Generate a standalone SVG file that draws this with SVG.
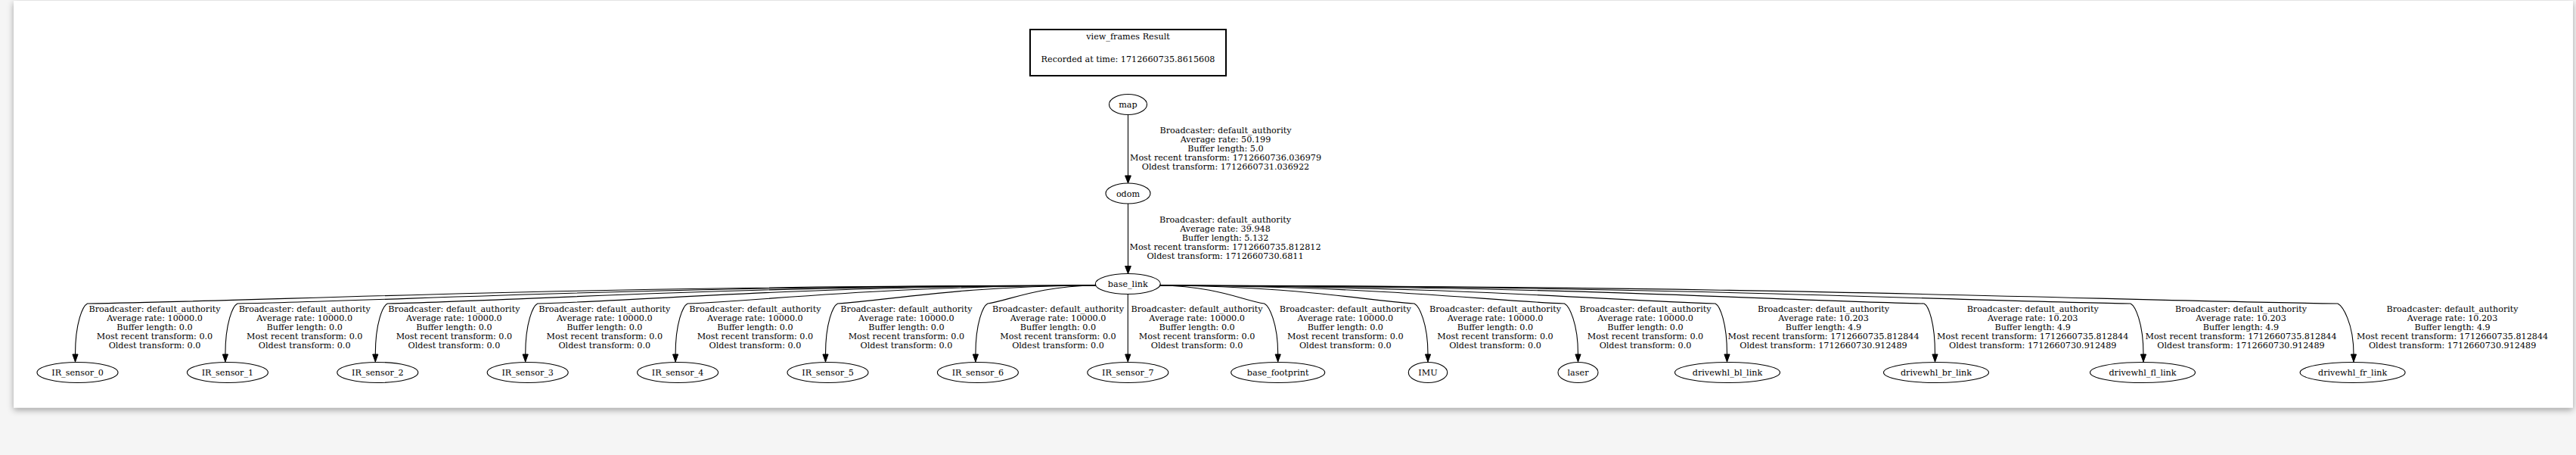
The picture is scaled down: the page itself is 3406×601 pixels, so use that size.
<svg xmlns="http://www.w3.org/2000/svg" width="3406" height="601" viewBox="0 0 3406 601">
<defs>
<filter id="sh" x="-1%" y="-5%" width="102%" height="112%">
<feDropShadow dx="0" dy="3" stdDeviation="4" flood-color="#000" flood-opacity="0.35"/>
</filter>
<style>
text{font-family:"DejaVu Serif","Liberation Serif",serif;font-size:11.2px;fill:#000;text-anchor:middle}
.n ellipse{fill:none;stroke:#000;stroke-width:1.1}
.e path{fill:none;stroke:#000;stroke-width:1.1}
.e polygon{fill:#000;stroke:#000;stroke-width:1}
</style>
</defs>
<rect x="0" y="0" width="3406" height="601" fill="#f5f5f5"/>
<rect x="18" y="1" width="3384" height="537.5" fill="#fff" filter="url(#sh)"/>

<g id="title">
<rect x="1362" y="39" width="259" height="61" fill="none" stroke="#000" stroke-width="2"/>
<text x="1491.5" y="52">view_frames Result</text>
<text x="1491.5" y="82">Recorded at time: 1712660735.8615608</text>
</g>

<g id="connectors" class="e">
<path d="M1491.5,151.5 L1491.5,232"/><polygon points="1491.5,242 1487.6,232 1495.4,232"/>
<text x="1620.5" y="176"><tspan x="1620.5">Broadcaster: default_authority</tspan><tspan x="1620.5" dy="12.1">Average rate: 50.199</tspan><tspan x="1620.5" dy="12.1">Buffer length: 5.0</tspan><tspan x="1620.5" dy="12.1">Most recent transform: 1712660736.036979</tspan><tspan x="1620.5" dy="12.1">Oldest transform: 1712660731.036922</tspan></text>
<path d="M1491.5,269 L1491.5,351.5"/><polygon points="1491.5,361.5 1487.6,351.5 1495.4,351.5"/>
<text x="1620" y="294"><tspan x="1620">Broadcaster: default_authority</tspan><tspan x="1620" dy="12.1">Average rate: 39.948</tspan><tspan x="1620" dy="12.1">Buffer length: 5.132</tspan><tspan x="1620" dy="12.1">Most recent transform: 1712660735.812812</tspan><tspan x="1620" dy="12.1">Oldest transform: 1712660730.6811</tspan></text>

<path d="M1449,377 C715.6,378 382.2,397 115.5,401 C109.5,404 99.5,426 99.5,468"/><polygon points="99.5,478 95.9,468 103.1,468"/>
<path d="M1449,377 C824.7,378 540.9,397 313.9,401 C307.9,404 297.9,426 297.9,468"/><polygon points="297.9,478 294.3,468 301.5,468"/>
<path d="M1449,377 C933.8,378 699.6,397 512.3,401 C506.3,404 496.3,426 496.3,468"/><polygon points="496.3,478 492.7,468 499.9,468"/>
<path d="M1449,377 C1042.9,378 858.4,397 710.7,401 C704.7,404 694.7,426 694.7,468"/><polygon points="694.7,478 691.1,468 698.3,468"/>
<path d="M1449,377 C1152,378 1017.1,397 909.1,401 C903.1,404 893.1,426 893.1,468"/><polygon points="893.1,478 889.5,468 896.7,468"/>
<path d="M1449,377 C1261.2,378 1175.8,397 1107.5,401 C1101.5,404 1091.5,426 1091.5,468"/><polygon points="1091.5,478 1087.9,468 1095.1,468"/>
<path d="M1449,377 C1370.3,378 1334.5,397 1305.9,401 C1299.9,404 1289.9,426 1289.9,468"/><polygon points="1289.9,478 1286.3,468 1293.5,468"/>
<path d="M1491.3,388.5 L1491.3,468"/><polygon points="1491.3,478 1487.7,468 1494.9,468"/>
<path d="M1533,377 C1609.3,378 1644,397 1671.7,401 C1677.7,404 1689.7,426 1689.7,468"/><polygon points="1689.7,478 1686.1,468 1693.3,468"/>
<path d="M1533,377 C1718.4,378 1802.6,397 1870,401 C1876,404 1888,426 1888,468"/><polygon points="1888,478 1884.4,468 1891.6,468"/>
<path d="M1533,377 C1827.5,378 1961.4,397 2068.5,401 C2074.5,404 2086.5,426 2086.5,468"/><polygon points="2086.5,478 2082.9,468 2090.1,468"/>
<path d="M1533,377 C1937.3,378 2121,397 2268,401 C2274,404 2283.5,426 2283.5,468"/><polygon points="2283.5,478 2279.9,468 2287.1,468"/>
<path d="M1533,377 C2089,378 2341.8,397 2544,401 C2550,404 2558.5,426 2558.5,468"/><polygon points="2558.5,478 2554.9,468 2562.1,468"/>
<path d="M1533,377 C2239.2,378 2560.2,397 2817,401 C2823,404 2834,426 2834,468"/><polygon points="2834,478 2830.4,468 2837.6,468"/>
<path d="M1533,377 C2389.9,378 2779.4,397 3091,401 C3097,404 3112,426 3112,468"/><polygon points="3112,478 3108.4,468 3115.6,468"/>

<g id="lbl-ir">
<text y="412"><tspan x="204.5">Broadcaster: default_authority</tspan><tspan x="204.5" dy="12.1">Average rate: 10000.0</tspan><tspan x="204.5" dy="12.1">Buffer length: 0.0</tspan><tspan x="204.5" dy="12.1">Most recent transform: 0.0</tspan><tspan x="204.5" dy="12.1">Oldest transform: 0.0</tspan></text>
<text y="412"><tspan x="402.7">Broadcaster: default_authority</tspan><tspan x="402.7" dy="12.1">Average rate: 10000.0</tspan><tspan x="402.7" dy="12.1">Buffer length: 0.0</tspan><tspan x="402.7" dy="12.1">Most recent transform: 0.0</tspan><tspan x="402.7" dy="12.1">Oldest transform: 0.0</tspan></text>
<text y="412"><tspan x="600.4">Broadcaster: default_authority</tspan><tspan x="600.4" dy="12.1">Average rate: 10000.0</tspan><tspan x="600.4" dy="12.1">Buffer length: 0.0</tspan><tspan x="600.4" dy="12.1">Most recent transform: 0.0</tspan><tspan x="600.4" dy="12.1">Oldest transform: 0.0</tspan></text>
<text y="412"><tspan x="799.3">Broadcaster: default_authority</tspan><tspan x="799.3" dy="12.1">Average rate: 10000.0</tspan><tspan x="799.3" dy="12.1">Buffer length: 0.0</tspan><tspan x="799.3" dy="12.1">Most recent transform: 0.0</tspan><tspan x="799.3" dy="12.1">Oldest transform: 0.0</tspan></text>
<text y="412"><tspan x="998.4">Broadcaster: default_authority</tspan><tspan x="998.4" dy="12.1">Average rate: 10000.0</tspan><tspan x="998.4" dy="12.1">Buffer length: 0.0</tspan><tspan x="998.4" dy="12.1">Most recent transform: 0.0</tspan><tspan x="998.4" dy="12.1">Oldest transform: 0.0</tspan></text>
<text y="412"><tspan x="1198.4">Broadcaster: default_authority</tspan><tspan x="1198.4" dy="12.1">Average rate: 10000.0</tspan><tspan x="1198.4" dy="12.1">Buffer length: 0.0</tspan><tspan x="1198.4" dy="12.1">Most recent transform: 0.0</tspan><tspan x="1198.4" dy="12.1">Oldest transform: 0.0</tspan></text>
<text y="412"><tspan x="1399">Broadcaster: default_authority</tspan><tspan x="1399" dy="12.1">Average rate: 10000.0</tspan><tspan x="1399" dy="12.1">Buffer length: 0.0</tspan><tspan x="1399" dy="12.1">Most recent transform: 0.0</tspan><tspan x="1399" dy="12.1">Oldest transform: 0.0</tspan></text>
<text y="412"><tspan x="1582.6">Broadcaster: default_authority</tspan><tspan x="1582.6" dy="12.1">Average rate: 10000.0</tspan><tspan x="1582.6" dy="12.1">Buffer length: 0.0</tspan><tspan x="1582.6" dy="12.1">Most recent transform: 0.0</tspan><tspan x="1582.6" dy="12.1">Oldest transform: 0.0</tspan></text>
<text y="412"><tspan x="1778.8">Broadcaster: default_authority</tspan><tspan x="1778.8" dy="12.1">Average rate: 10000.0</tspan><tspan x="1778.8" dy="12.1">Buffer length: 0.0</tspan><tspan x="1778.8" dy="12.1">Most recent transform: 0.0</tspan><tspan x="1778.8" dy="12.1">Oldest transform: 0.0</tspan></text>
<text y="412"><tspan x="1977">Broadcaster: default_authority</tspan><tspan x="1977" dy="12.1">Average rate: 10000.0</tspan><tspan x="1977" dy="12.1">Buffer length: 0.0</tspan><tspan x="1977" dy="12.1">Most recent transform: 0.0</tspan><tspan x="1977" dy="12.1">Oldest transform: 0.0</tspan></text>
<text y="412"><tspan x="2175.5">Broadcaster: default_authority</tspan><tspan x="2175.5" dy="12.1">Average rate: 10000.0</tspan><tspan x="2175.5" dy="12.1">Buffer length: 0.0</tspan><tspan x="2175.5" dy="12.1">Most recent transform: 0.0</tspan><tspan x="2175.5" dy="12.1">Oldest transform: 0.0</tspan></text>
</g>
<g id="lbl-wheels">
<text y="412"><tspan x="2411">Broadcaster: default_authority</tspan><tspan x="2411" dy="12.1">Average rate: 10.203</tspan><tspan x="2411" dy="12.1">Buffer length: 4.9</tspan><tspan x="2411" dy="12.1">Most recent transform: 1712660735.812844</tspan><tspan x="2411" dy="12.1">Oldest transform: 1712660730.912489</tspan></text>
<text y="412"><tspan x="2687.7">Broadcaster: default_authority</tspan><tspan x="2687.7" dy="12.1">Average rate: 10.203</tspan><tspan x="2687.7" dy="12.1">Buffer length: 4.9</tspan><tspan x="2687.7" dy="12.1">Most recent transform: 1712660735.812844</tspan><tspan x="2687.7" dy="12.1">Oldest transform: 1712660730.912489</tspan></text>
<text y="412"><tspan x="2963">Broadcaster: default_authority</tspan><tspan x="2963" dy="12.1">Average rate: 10.203</tspan><tspan x="2963" dy="12.1">Buffer length: 4.9</tspan><tspan x="2963" dy="12.1">Most recent transform: 1712660735.812844</tspan><tspan x="2963" dy="12.1">Oldest transform: 1712660730.912489</tspan></text>
<text y="412"><tspan x="3242.6">Broadcaster: default_authority</tspan><tspan x="3242.6" dy="12.1">Average rate: 10.203</tspan><tspan x="3242.6" dy="12.1">Buffer length: 4.9</tspan><tspan x="3242.6" dy="12.1">Most recent transform: 1712660735.812844</tspan><tspan x="3242.6" dy="12.1">Oldest transform: 1712660730.912489</tspan></text>
</g>
</g>

<g id="map" class="n"><ellipse cx="1491.5" cy="138" rx="25" ry="13.5"/><text x="1491.5" y="142">map</text></g>
<g id="odom" class="n"><ellipse cx="1491.5" cy="255.5" rx="29.5" ry="13.5"/><text x="1491.5" y="259.5">odom</text></g>
<g id="base_link" class="n"><ellipse cx="1491.3" cy="375" rx="43" ry="13.5"/><text x="1491.3" y="379">base_link</text></g>
<g id="IR_sensor_0" class="n"><ellipse cx="102.5" cy="492" rx="53.5" ry="13.5"/><text x="102.5" y="496">IR_sensor_0</text></g>
<g id="IR_sensor_1" class="n"><ellipse cx="300.9" cy="492" rx="53.5" ry="13.5"/><text x="300.9" y="496">IR_sensor_1</text></g>
<g id="IR_sensor_2" class="n"><ellipse cx="499.3" cy="492" rx="53.5" ry="13.5"/><text x="499.3" y="496">IR_sensor_2</text></g>
<g id="IR_sensor_3" class="n"><ellipse cx="697.7" cy="492" rx="53.5" ry="13.5"/><text x="697.7" y="496">IR_sensor_3</text></g>
<g id="IR_sensor_4" class="n"><ellipse cx="896.1" cy="492" rx="53.5" ry="13.5"/><text x="896.1" y="496">IR_sensor_4</text></g>
<g id="IR_sensor_5" class="n"><ellipse cx="1094.5" cy="492" rx="53.5" ry="13.5"/><text x="1094.5" y="496">IR_sensor_5</text></g>
<g id="IR_sensor_6" class="n"><ellipse cx="1292.9" cy="492" rx="53.5" ry="13.5"/><text x="1292.9" y="496">IR_sensor_6</text></g>
<g id="IR_sensor_7" class="n"><ellipse cx="1491.3" cy="492" rx="53.5" ry="13.5"/><text x="1491.3" y="496">IR_sensor_7</text></g>
<g id="base_footprint" class="n"><ellipse cx="1689.7" cy="492" rx="62" ry="13.5"/><text x="1689.7" y="496">base_footprint</text></g>
<g id="IMU" class="n"><ellipse cx="1888" cy="492" rx="25.7" ry="13.5"/><text x="1888" y="496">IMU</text></g>
<g id="laser" class="n"><ellipse cx="2086.5" cy="492" rx="26.5" ry="13.5"/><text x="2086.5" y="496">laser</text></g>
<g id="drivewhl_bl_link" class="n"><ellipse cx="2284" cy="492" rx="69.5" ry="13.5"/><text x="2284" y="496">drivewhl_bl_link</text></g>
<g id="drivewhl_br_link" class="n"><ellipse cx="2560" cy="492" rx="69.5" ry="13.5"/><text x="2560" y="496">drivewhl_br_link</text></g>
<g id="drivewhl_fl_link" class="n"><ellipse cx="2833" cy="492" rx="69.5" ry="13.5"/><text x="2833" y="496">drivewhl_fl_link</text></g>
<g id="drivewhl_fr_link" class="n"><ellipse cx="3110.6" cy="492" rx="69.5" ry="13.5"/><text x="3110.6" y="496">drivewhl_fr_link</text></g>
</svg>
